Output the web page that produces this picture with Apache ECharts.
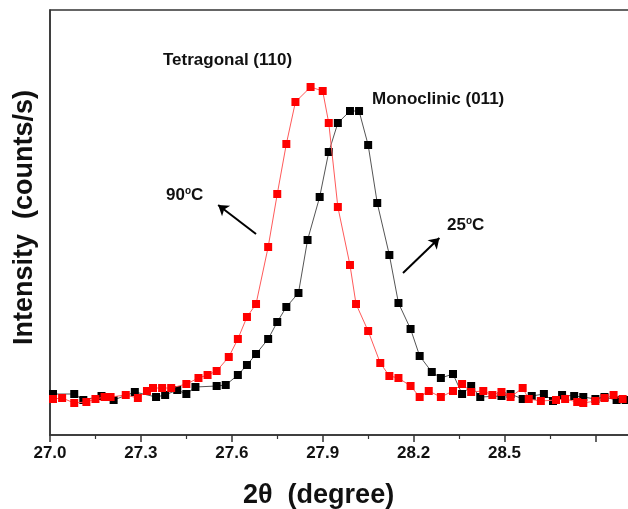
<!DOCTYPE html>
<html>
<head>
<meta charset="utf-8">
<script src="https://cdn.jsdelivr.net/npm/echarts@6/dist/echarts.min.js"></script>
<style>html,body{margin:0;padding:0;background:#fff}#c{width:628px;height:509px}</style>
</head>
<body>
<div id="c"></div>
<script>
// 2θ positions (degree) and intensity (arbitrary units)
const x90 = [27.01,27.04,27.08,27.12,27.15,27.18,27.20,27.25,27.29,27.32,27.34,27.37,27.40,27.45,27.49,27.52,27.55,27.59,27.62,27.65,27.68,27.72,27.75,27.78,27.81,27.86,27.90,27.92,27.95,27.99,28.01,28.05,28.09,28.12,28.15,28.19,28.22,28.25,28.29,28.33,28.36,28.39,28.43,28.46,28.49,28.52,28.56,28.58,28.62,28.67,28.70,28.74,28.76,28.80,28.83,28.86,28.89];
const y90 = [36,37,32,33,36,38,38,40,37,44,47,47,47,51,57,60,64,78,96,118,131,188,241,291,333,348,344,312,228,170,131,104,72,59,57,49,38,44,38,44,51,43,44,40,43,38,47,36,34,35,36,33,32,34,37,40,36];
const x25 = [27.01,27.08,27.11,27.17,27.21,27.28,27.35,27.38,27.42,27.45,27.48,27.55,27.58,27.62,27.65,27.68,27.72,27.75,27.78,27.82,27.85,27.89,27.92,27.95,27.99,28.02,28.05,28.08,28.12,28.15,28.19,28.22,28.26,28.29,28.33,28.36,28.39,28.42,28.49,28.52,28.56,28.59,28.63,28.66,28.69,28.73,28.76,28.80,28.83,28.87,28.90];
const y25 = [41,41,35,39,35,43,38,40,45,41,48,49,50,60,70,81,96,113,128,142,195,238,283,312,324,324,290,232,180,132,106,79,63,57,61,41,49,38,39,41,36,39,41,34,40,39,38,36,38,35,35];
const tickLabels = ['27.0','27.3','27.6','27.9','28.2','28.5'];
const arrow90 = [[27.68,201],[27.555,230]];
const arrow25 = [[28.165,162],[28.285,197]];

const pair = (xs, ys) => xs.map((v, i) => [v, ys[i]]);
const FONT = 'Liberation Sans, Arial, sans-serif';

const chart = echarts.init(document.getElementById('c'), null, {renderer: 'canvas'});
chart.setOption({
  animation: false,
  backgroundColor: '#fff',
  grid: {left: 50, top: 10, width: 606, height: 425, outerBoundsMode: 'none', containLabel: false,
         show: true, borderColor: '#333', borderWidth: 1.5, backgroundColor: 'transparent'},
  xAxis: {
    type: 'value', min: 27.0, max: 29.0, interval: 0.3,
    axisLine: {show: true, lineStyle: {color: '#333', width: 1.5}},
    axisTick: {show: true, inside: false, length: 7, lineStyle: {color: '#333', width: 1.5}},
    minorTick: {show: true, splitNumber: 2, length: 4, lineStyle: {color: '#333', width: 1.2}},
    splitLine: {show: false},
    axisLabel: {
      margin: 10, color: '#111', fontFamily: FONT, fontWeight: 'bold', fontSize: 17,
      formatter: v => tickLabels.includes(v.toFixed(1)) ? v.toFixed(1) : ''
    }
  },
  yAxis: {
    type: 'value', min: 0, max: 425,
    name: 'Intensity  (counts/s)', nameLocation: 'middle', nameGap: 12,
    nameTextStyle: {fontFamily: FONT, fontWeight: 'bold', fontSize: 27, color: '#111', padding: [0, 0, 0, 10]},
    axisLine: {show: true, lineStyle: {color: '#333', width: 1.5}},
    axisTick: {show: false}, axisLabel: {show: false}, splitLine: {show: false}
  },
  graphic: [
    {type: 'text', left: 243, top: 482, style: {text: '2θ  (degree)', font: 'bold 27px ' + FONT, fill: '#111'}},
    {type: 'text', left: 163, top: 52, style: {text: 'Tetragonal (110)', font: 'bold 17px ' + FONT, fill: '#111'}},
    {type: 'text', left: 372, top: 91, style: {text: 'Monoclinic (011)', font: 'bold 17px ' + FONT, fill: '#111'}},
    {type: 'text', left: 166, top: 186, style: {text: '{n|90}{s|o}{n|C}', rich: {n: {font: 'bold 17px ' + FONT, fill: '#111'}, s: {font: 'bold 10px ' + FONT, fill: '#111', verticalAlign: 'top', padding: [0,0,8,0]}}}},
    {type: 'text', left: 447, top: 216, style: {text: '{n|25}{s|o}{n|C}', rich: {n: {font: 'bold 17px ' + FONT, fill: '#111'}, s: {font: 'bold 10px ' + FONT, fill: '#111', verticalAlign: 'top', padding: [0,0,8,0]}}}}
  ],
  series: [
    {
      name: '25°C', type: 'line', data: pair(x25, y25),
      symbol: 'rect', symbolSize: 8, z: 2,
      itemStyle: {color: '#000'},
      lineStyle: {color: '#555', width: 1},
      markLine: {
        silent: true, symbol: ['none', 'arrow'], symbolSize: 10, label: {show: false},
        lineStyle: {color: '#000', width: 2, type: 'solid'},
        data: [
          [{coord: arrow90[0]}, {coord: arrow90[1]}],
          [{coord: arrow25[0]}, {coord: arrow25[1]}]
        ]
      }
    },
    {
      name: '90°C', type: 'line', data: pair(x90, y90),
      symbol: 'rect', symbolSize: 8, z: 3,
      itemStyle: {color: '#ff0000'},
      lineStyle: {color: '#ff5a5a', width: 1}
    }
  ]
});
</script>
</body>
</html>
